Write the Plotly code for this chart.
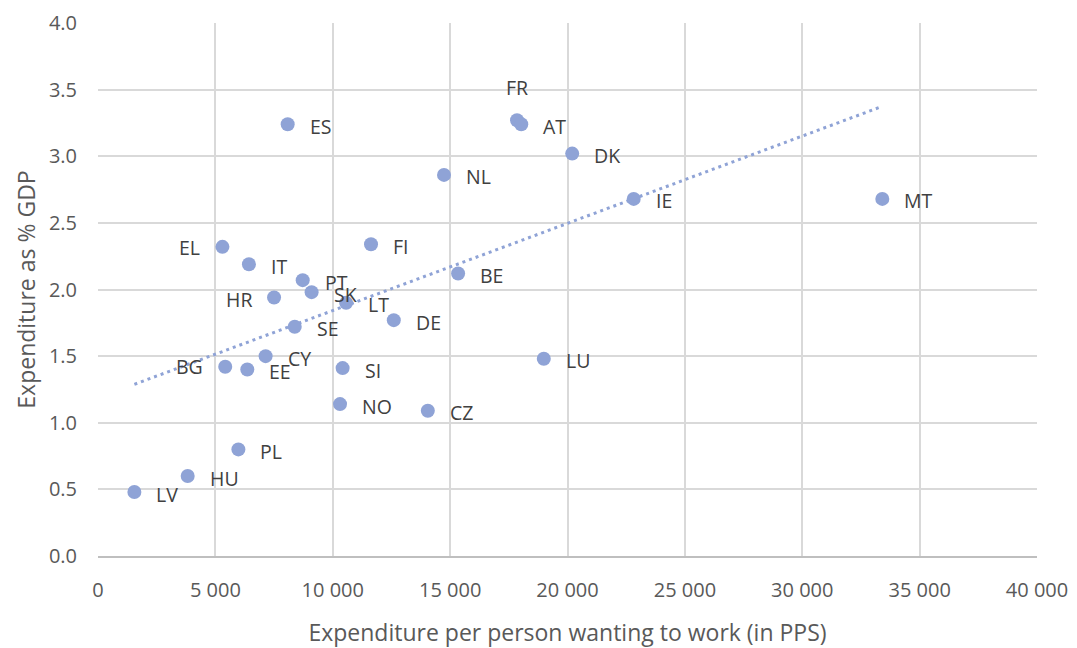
import numpy as np
import plotly.graph_objects as go

# Active labour market policy spending by country
countries = ["LV", "HU", "PL", "BG", "EE", "CY", "SE", "HR", "IT", "EL", "PT", "SK",
             "ES", "SI", "NO", "LT", "FI", "DE", "CZ", "NL", "BE", "FR", "AT", "LU",
             "DK", "IE", "MT"]
spend_per_person = [1550, 3820, 5980, 5420, 6360, 7140, 8380, 7500, 6430, 5300, 8720, 9100,
                    8080, 10420, 10310, 10570, 11630, 12600, 14050, 14740, 15340, 17850, 18030, 18990,
                    20200, 22820, 33410]
spend_pct_gdp = [0.48, 0.60, 0.80, 1.42, 1.40, 1.50, 1.72, 1.94, 2.19, 2.32, 2.07, 1.98,
                 3.24, 1.41, 1.14, 1.90, 2.34, 1.77, 1.09, 2.86, 2.12, 3.27, 3.24, 1.48,
                 3.02, 2.68, 2.68]

x_ticks = [0, 5000, 10000, 15000, 20000, 25000, 30000, 35000, 40000]
x_tick_labels = ["0", "5 000", "10 000", "15 000", "20 000", "25 000", "30 000", "35 000", "40 000"]
y_ticks = [0.0, 0.5, 1.0, 1.5, 2.0, 2.5, 3.0, 3.5, 4.0]
y_tick_labels = ["0.0", "0.5", "1.0", "1.5", "2.0", "2.5", "3.0", "3.5", "4.0"]

# Label placement: default to the right of each point, a few exceptions
label_default = dict(xanchor="left", yanchor="middle", xshift=20, yshift=-2)
label_overrides = {
    "EL": dict(xanchor="right", yanchor="middle", xshift=-20, yshift=-1),
    "BG": dict(xanchor="right", yanchor="middle", xshift=-20, yshift=0),
    "HR": dict(xanchor="right", yanchor="middle", xshift=-20, yshift=-2),
    "FR": dict(xanchor="center", yanchor="middle", xshift=0, yshift=33),
}

marker_color = "#8FA3D6"
font_family = "'Open Sans', sans-serif"

# Linear trend fitted to the data
slope, intercept = np.polyfit(spend_per_person, spend_pct_gdp, 1)
trend_x = np.array([min(spend_per_person), max(spend_per_person)])
trend_y = slope * trend_x + intercept

fig = go.Figure()
fig.add_trace(go.Scatter(
    x=trend_x, y=trend_y, mode="lines",
    line=dict(color=marker_color, width=3, dash="3px,4px"),
    hoverinfo="skip", showlegend=False,
))
fig.add_trace(go.Scatter(
    x=spend_per_person, y=spend_pct_gdp, mode="markers",
    marker=dict(size=14, color=marker_color),
    text=countries, hoverinfo="text+x+y", showlegend=False,
))

for c, xv, yv in zip(countries, spend_per_person, spend_pct_gdp):
    opts = label_overrides.get(c, label_default)
    fig.add_annotation(x=xv, y=yv, text=c, showarrow=False,
                       font=dict(family=font_family, size=19.5, color="#404040"), **opts)

axis_common = dict(
    showgrid=True, gridcolor="#D9D9D9", gridwidth=2,
    zeroline=False, ticks="", automargin=False,
    tickfont=dict(family=font_family, size=20, color="#595959"),
    title_font=dict(family=font_family, size=23, color="#595959"),
)

fig.update_layout(
    width=1077, height=648,
    margin=dict(l=98, r=40, t=23, b=92),
    paper_bgcolor="white", plot_bgcolor="white",
    xaxis=dict(range=[0, 40000], tickvals=x_ticks, ticktext=x_tick_labels,
               title=dict(text="Expenditure per person wanting to work (in PPS)", standoff=24),
               showline=True, linecolor="#BFBFBF", linewidth=2, mirror=False,
               ticklabelstandoff=15, **axis_common),
    yaxis=dict(range=[0, 4.0], tickvals=y_ticks, ticktext=y_tick_labels,
               title=dict(text="Expenditure as % GDP", standoff=6),
               showline=False, ticklabelstandoff=20, **axis_common),
)

fig.write_html("out.html")
